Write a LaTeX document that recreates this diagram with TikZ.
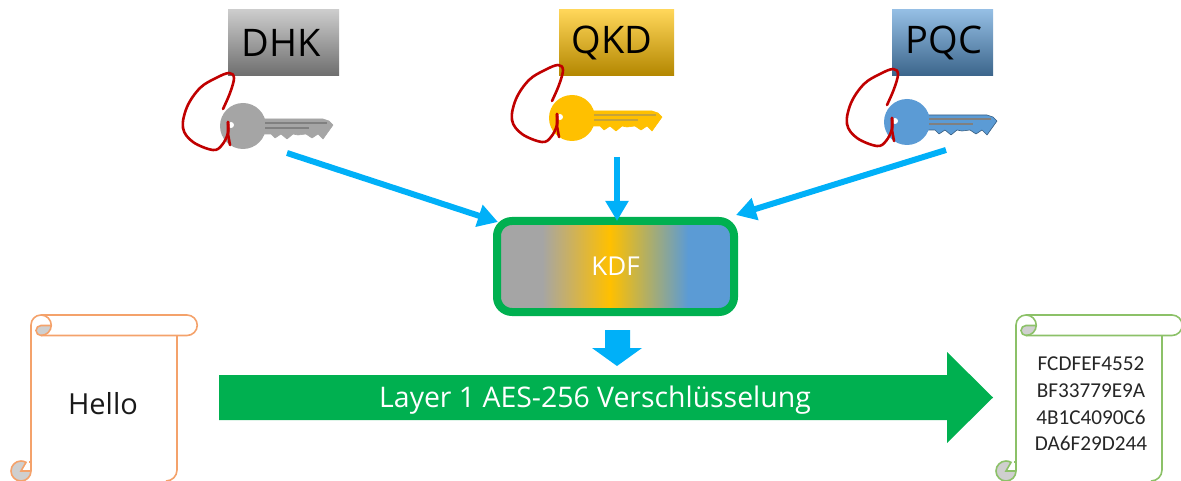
\documentclass[tikz,border=0pt]{standalone}
\usepackage{fontspec}
\setmainfont{Open Sans}
\newfontfamily\hexfont{Carlito}
\usetikzlibrary{arrows.meta}
\definecolor{arrowblue}{HTML}{00B0F8}
\definecolor{kgreen}{HTML}{00B050}
\definecolor{kgray}{HTML}{A5A5A5}
\definecolor{kgold}{HTML}{FFC000}
\definecolor{kblue}{HTML}{5B9BD5}
\definecolor{scrollorange}{HTML}{F4A26B}
\definecolor{scrollgreen}{HTML}{8CC168}
\definecolor{curlgray}{HTML}{CFCFCF}
\definecolor{loopred}{HTML}{C00000}
\pgfdeclarehorizontalshading{kdfshade}{100bp}{color(0bp)=(kgray);color(34.5bp)=(kgray);color(48.8bp)=(kgold);color(65.3bp)=(kblue);color(100bp)=(kblue)}
\tikzset{
  x=1pt,y=-1pt,
  badge/.style={minimum height=66pt,inner sep=0pt,font=\fontsize{38}{42}\selectfont,text=black},
  feed/.style={draw=arrowblue,line width=6pt,-{Triangle[length=20pt,width=22pt]}},
  pics/keyicon/.style n args={3}{code={
    \fill[#1,draw=#2,line width=.6pt,line join=round] (18,-7) -- (80,-7) -- (86,-5) -- (90,-1) -- (80,13) -- (75,8) -- (69,12) -- (63,8) -- (55,9) -- (50,8) -- (44,13) -- (38,8) -- (32,12) -- (28,8) -- (18,8) -- cycle;
    \fill[#1] (0,0) circle[radius=23pt];
    \draw[#3,line width=2.2pt] (22,-3) -- (84,-3);
    \draw[#3,line width=1.6pt] (22,2) -- (66,2);
    \fill[white] (-12,-1) circle[radius=3pt];
    \draw[loopred,line width=2.6pt,line join=round,line cap=round] plot[smooth,tension=.6] coordinates {(-20,-17) (-13,-33) (-9,-48) (-14,-53) (-27,-48) (-43,-38) (-56,-19) (-60,2) (-50,16) (-30,24) (-21,19) (-15,7) (-15,-4)};
    \draw[loopred,line width=2.6pt,line cap=round] (-15,-4) -- (-15,8) -- (-13,19);
  }},
  pics/scrollicon/.style={code={
    \fill[curlgray] (10,10.5) arc[start angle=90,end angle=270,radius=5pt] arc[start angle=270,end angle=360,radius=10.25pt] -- cycle;
    \draw[#1,line width=1.6pt,line join=round]
      (0,156) -- (0,10) arc[start angle=180,end angle=90,radius=10pt] -- (156,0)
      arc[start angle=90,end angle=-90,radius=10.25pt] -- (10,20.5);
    \draw[#1,line width=1.6pt] (10,0) arc[start angle=90,end angle=-90,radius=10.25pt];
    \draw[#1,line width=1.6pt] (20,10.5) -- (10,10.5) arc[start angle=90,end angle=270,radius=5pt];
    \draw[#1,line width=1.6pt] (146,20.5) -- (146,155) arc[start angle=0,end angle=-90,radius=11pt];
    \fill[curlgray,draw=#1,line width=1.6pt] (-10,156) -- (0,156) arc[start angle=0,end angle=-300,radius=10pt] -- cycle;
    \draw[#1,line width=1.4pt] (-2,147) -- (0,147);
  }}
}
\begin{document}
\begin{tikzpicture}
\useasboundingbox (0,0) rectangle (1181,481);
\clip (0,0) rectangle (1181,481);
% source badges
\node[badge,minimum width=111pt,top color=black!20,middle color=kgray,bottom color=black!57] (dhk) at (283.5,43) {\hspace*{-5pt}\raisebox{-1pt}{DHK}};
\node[badge,minimum width=115pt,top color=kgold!65!white,middle color=kgold,bottom color=kgold!70!black] (qkd) at (616.5,43) {\hspace*{-9pt}\raisebox{-1pt}{QKD}};
\node[badge,minimum width=101pt,top color=kblue!65!white,middle color=kblue,bottom color=kblue!65!black] (pqc) at (942.5,43) {\hspace*{3pt}\raisebox{-1pt}{PQC}};
% keys
\pic at (243,126) {keyicon={kgray}{kgray}{gray}};
\pic at (572,118) {keyicon={kgold}{kgold}{kgold!55!gray}};
\pic at (907,122) {keyicon={kblue}{kblue!60!black}{gray}};
\coordinate (k1) at (287,153);
\coordinate (k2) at (617,157);
\coordinate (k3) at (946,150);
% KDF
\node[draw=kgreen,line width=8pt,rounded corners=15pt,minimum width=237pt,minimum height=91pt,inner sep=0pt,shading=kdfshade,text=white,font=\fontsize{26}{30}\selectfont] (kdf) at (615.5,266.5) {KDF};
\coordinate (t1) at (498,222);
\coordinate (t2) at (617,221);
\coordinate (t3) at (736,215);
\draw[feed] (k1) -- (t1);
\draw[feed] (k2) -- (t2);
\draw[feed] (k3) -- (t3);
% block arrow
\fill[arrowblue] (605,330) -- (630,330) -- (630,348) -- (642,348) -- (617,366) -- (592,348) -- (605,348) -- cycle;
% big arrow
\fill[kgreen] (219,375) -- (947,375) -- (947,352) -- (993,397.5) -- (947,443) -- (947,420) -- (219,420) -- cycle;
\node[text=white,font=\fontsize{28.4}{32}\selectfont,inner sep=0pt] (layer) at (595,400) {Layer 1 AES-256 Verschlüsselung};
% scrolls
\pic at (31,315) {scrollicon={scrollorange}};
\pic at (1016,315) {scrollicon={scrollgreen}};
\node[font=\fontsize{29}{34}\selectfont,text=black!90,inner sep=0pt] (hello) at (103,404) {Hello};
\node[font=\hexfont\fontsize{21.2}{26.6}\selectfont,align=center,text=black!85,inner sep=0pt] (hex) at (1091,404) {FCDFEF4552\\BF33779E9A\\4B1C4090C6\\DA6F29D244};
\end{tikzpicture}
\end{document}
